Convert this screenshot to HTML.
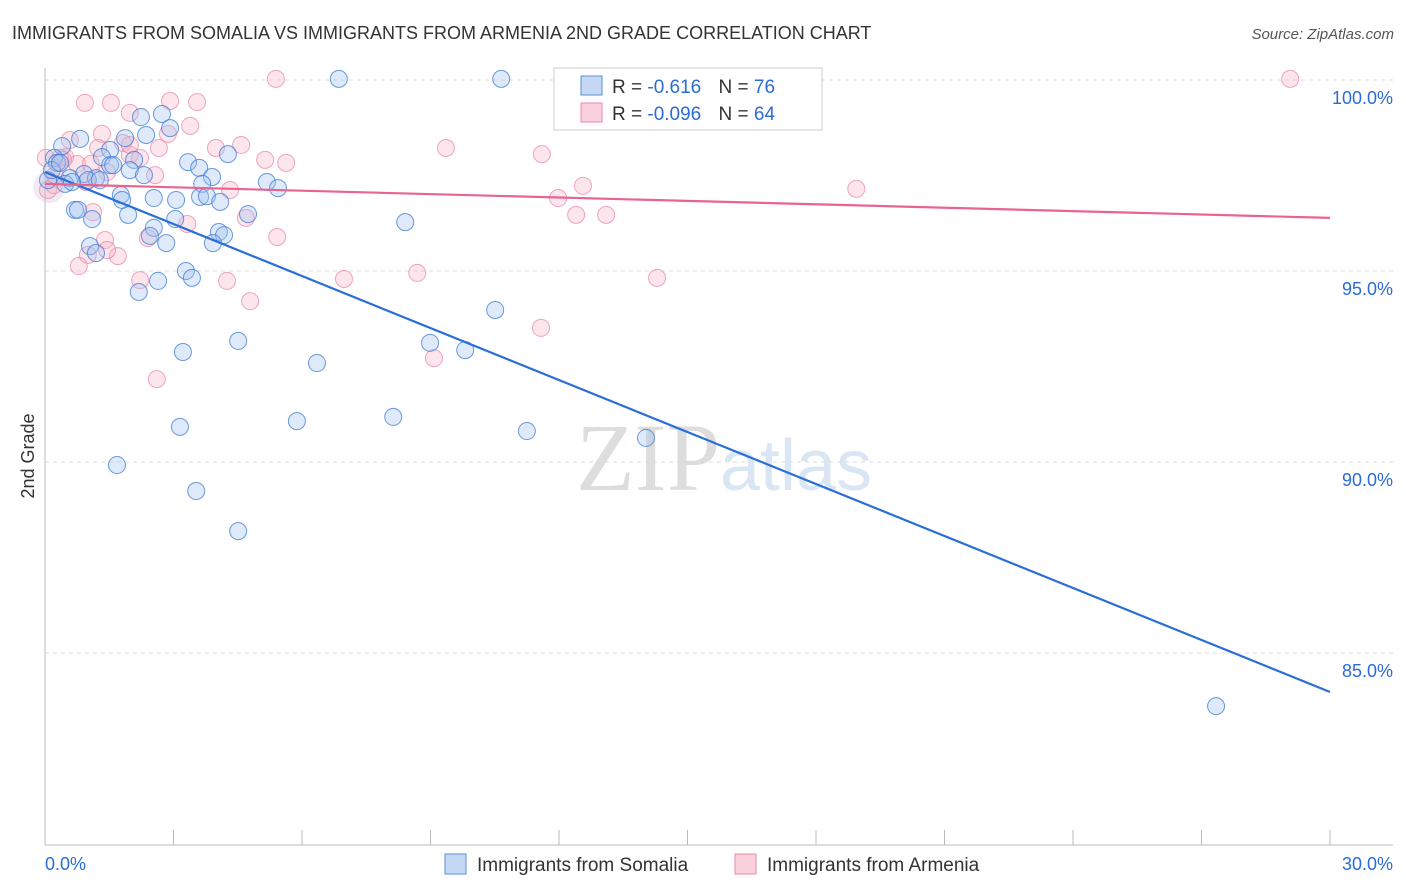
<!DOCTYPE html>
<html><head><meta charset="utf-8"><style>
body{margin:0;background:#fff;font-family:"Liberation Sans",sans-serif;}
#w{position:relative;width:1406px;height:892px;overflow:hidden}
</style></head><body><div id="w">
<svg id="s" width="1406" height="892">
<text x="12" y="39" font-size="18" fill="#333">IMMIGRANTS FROM SOMALIA VS IMMIGRANTS FROM ARMENIA 2ND GRADE CORRELATION CHART</text>
<text x="1394" y="39" font-size="15" fill="#555" font-style="italic" text-anchor="end">Source: ZipAtlas.com</text>
<text x="34" y="456" font-size="18" fill="#333" transform="rotate(-90 34 456)" text-anchor="middle">2nd Grade</text>
<text x="720" y="490" font-size="96" fill="#ddd" text-anchor="end" font-family="Liberation Serif">ZIP</text>
<text x="720" y="490" font-size="72" fill="#dbe6f5">atlas</text>
<g id="grid"></g><g id="axes"></g><g id="pts"></g><g id="lines"></g>
<rect x="554" y="68" width="268" height="62" fill="#fff" stroke="#ccc"/>
<rect x="581" y="76" width="21" height="19" fill="#c5d9f5" stroke="#5a8fd8"/>
<rect x="581" y="103" width="21" height="19" fill="#fbd0dd" stroke="#e98aa8"/>
<text x="612" y="93" font-size="19" fill="#333">R = <tspan fill="#2a6bd6"> -0.616</tspan>   <tspan dx="12">N = </tspan><tspan fill="#2a6bd6">76</tspan></text>
<text x="612" y="120" font-size="19" fill="#333">R = <tspan fill="#2a6bd6">-0.096</tspan>   <tspan dx="12">N = </tspan><tspan fill="#2a6bd6">64</tspan></text>
<rect x="445" y="854" width="21" height="20" fill="#c5d9f5" stroke="#5a8fd8"/>
<text x="477" y="871" font-size="19" fill="#333">Immigrants from Somalia</text>
<rect x="735" y="854" width="21" height="20" fill="#fbd0dd" stroke="#e98aa8"/>
<text x="767" y="871" font-size="19" fill="#333">Immigrants from Armenia</text>
</svg></div>
<script>
const blueX=[6.86,10.65,2.24,2.73,2.92,2.36,1.87,0.82,0.40,1.52,1.33,2.08,4.27,3.34,3.60,0.21,0.28,1.52,1.98,2.31,3.90,0.91,0.58,1.19,3.67,5.18,5.44,0.47,1.77,2.54,3.06,3.62,3.78,4.09,0.70,0.77,1.10,1.94,4.74,8.41,2.54,3.04,4.06,4.18,2.45,2.83,3.92,1.05,1.19,3.29,3.43,2.64,2.19,10.51,4.51,8.99,3.22,9.81,6.35,3.15,5.88,8.13,11.25,14.03,1.68,3.53,4.51,27.34,0.07,0.16,0.35,1.00,1.28,0.63,1.59,1.80];
const blueY=[100.03,100.03,99.03,99.11,98.74,98.56,98.48,98.46,98.27,98.17,97.98,97.91,98.06,97.85,97.70,97.96,97.83,97.77,97.64,97.51,97.46,97.54,97.43,97.43,97.28,97.33,97.17,97.28,96.99,96.91,96.86,96.94,96.96,96.81,96.60,96.60,96.36,96.47,96.49,96.28,96.13,96.36,96.02,95.94,95.92,95.73,95.73,95.65,95.47,95.00,94.82,94.74,94.45,93.98,93.17,93.12,92.88,92.93,92.59,90.92,91.07,91.18,90.81,90.63,89.92,89.24,88.19,83.61,97.38,97.64,97.83,97.38,97.38,97.33,97.77,96.86];
const pinkX=[5.39,29.07,0.93,1.54,2.92,3.55,1.98,3.39,2.87,1.33,0.58,1.82,2.66,3.99,4.58,9.36,11.60,0.47,0.75,1.07,1.98,2.22,5.14,5.63,0.35,2.57,1.45,4.32,12.56,18.94,11.98,0.07,0.21,0.96,12.40,13.10,1.12,4.69,3.32,5.42,2.40,1.40,1.70,1.45,1.00,0.79,8.69,6.98,14.29,4.25,2.22,4.79,11.58,9.08,2.61,0.42,0.02,0.23,1.98,1.24];
const pinkY=[100.03,100.03,99.40,99.40,99.45,99.42,99.14,98.80,98.59,98.59,98.43,98.35,98.22,98.22,98.30,98.22,98.06,97.98,97.80,97.80,98.04,97.96,97.91,97.83,97.96,97.51,97.59,97.12,97.23,97.15,96.91,97.12,97.25,97.33,96.47,96.47,96.54,96.39,96.23,95.89,95.86,95.81,95.39,95.55,95.42,95.13,94.95,94.79,94.82,94.74,94.76,94.21,93.51,92.72,92.17,97.91,97.96,97.51,98.30,98.22];
const blueTrend=[97.59,83.98];
const pinkTrend=[97.28,96.39];
const yTicks=[100,95,90,85];
const xTickLabels=["0.0%","30.0%"];
const NS="http://www.w3.org/2000/svg";
const X=v=>45+v/30*1285, Y=v=>80+(100-v)*38.2;
function mk(p,t,a){const e=document.createElementNS(NS,t);for(const k in a)e.setAttribute(k,a[k]);document.getElementById(p).appendChild(e);return e;}
yTicks.forEach(t=>{
 const l=mk('grid','line',{x1:45,x2:1393,y1:Y(t),y2:Y(t),stroke:'#ddd','stroke-dasharray':'4,4'});
 
 
 const tx=mk('grid','text',{x:1393,y:Y(t)+24,'font-size':18,fill:'#2a6bd6','text-anchor':'end'});tx.textContent=t.toFixed(1)+'%';
 
 
});
const ax=mk('axes','line',{x1:45,x2:1393,y1:845,y2:845,stroke:'#bbb'});


const ay=mk('axes','line',{x1:45,x2:45,y1:68,y2:845,stroke:'#bbb'});


for(let i=0;i<=10;i++){const t=mk('axes','line',{x1:X(i*3),x2:X(i*3),y1:830,y2:845,stroke:'#bbb'});
 
 }
[[0,'start',45],[30,'end',1393]].forEach((d,i)=>{const t=mk('axes','text',{x:d[2],y:870,'font-size':18,fill:'#2a6bd6','text-anchor':d[1]});t.textContent=xTickLabels[i];
 
 });
const big=mk('pts','circle',{cx:X(0.1),cy:Y(97.2),r:16,fill:'rgba(200,170,200,0.25)'});


pinkX.forEach((x,i)=>{const c=mk('pts','circle',{cx:X(x),cy:Y(pinkY[i]),r:8.5,fill:'rgba(248,180,200,0.35)',stroke:'rgba(232,130,165,0.7)','stroke-width':1});
 
 });
blueX.forEach((x,i)=>{const c=mk('pts','circle',{cx:X(x),cy:Y(blueY[i]),r:8.5,fill:'rgba(160,195,240,0.35)',stroke:'rgba(60,120,210,0.75)','stroke-width':1});
 
 });
const bl=mk('lines','line',{x1:X(0),y1:Y(blueTrend[0]),x2:X(30),y2:Y(blueTrend[1]),stroke:'#2a6fd8','stroke-width':2.2});


const pl=mk('lines','line',{x1:X(0),y1:Y(pinkTrend[0]),x2:X(30),y2:Y(pinkTrend[1]),stroke:'#e8648e','stroke-width':2.2});


</script></body></html>
